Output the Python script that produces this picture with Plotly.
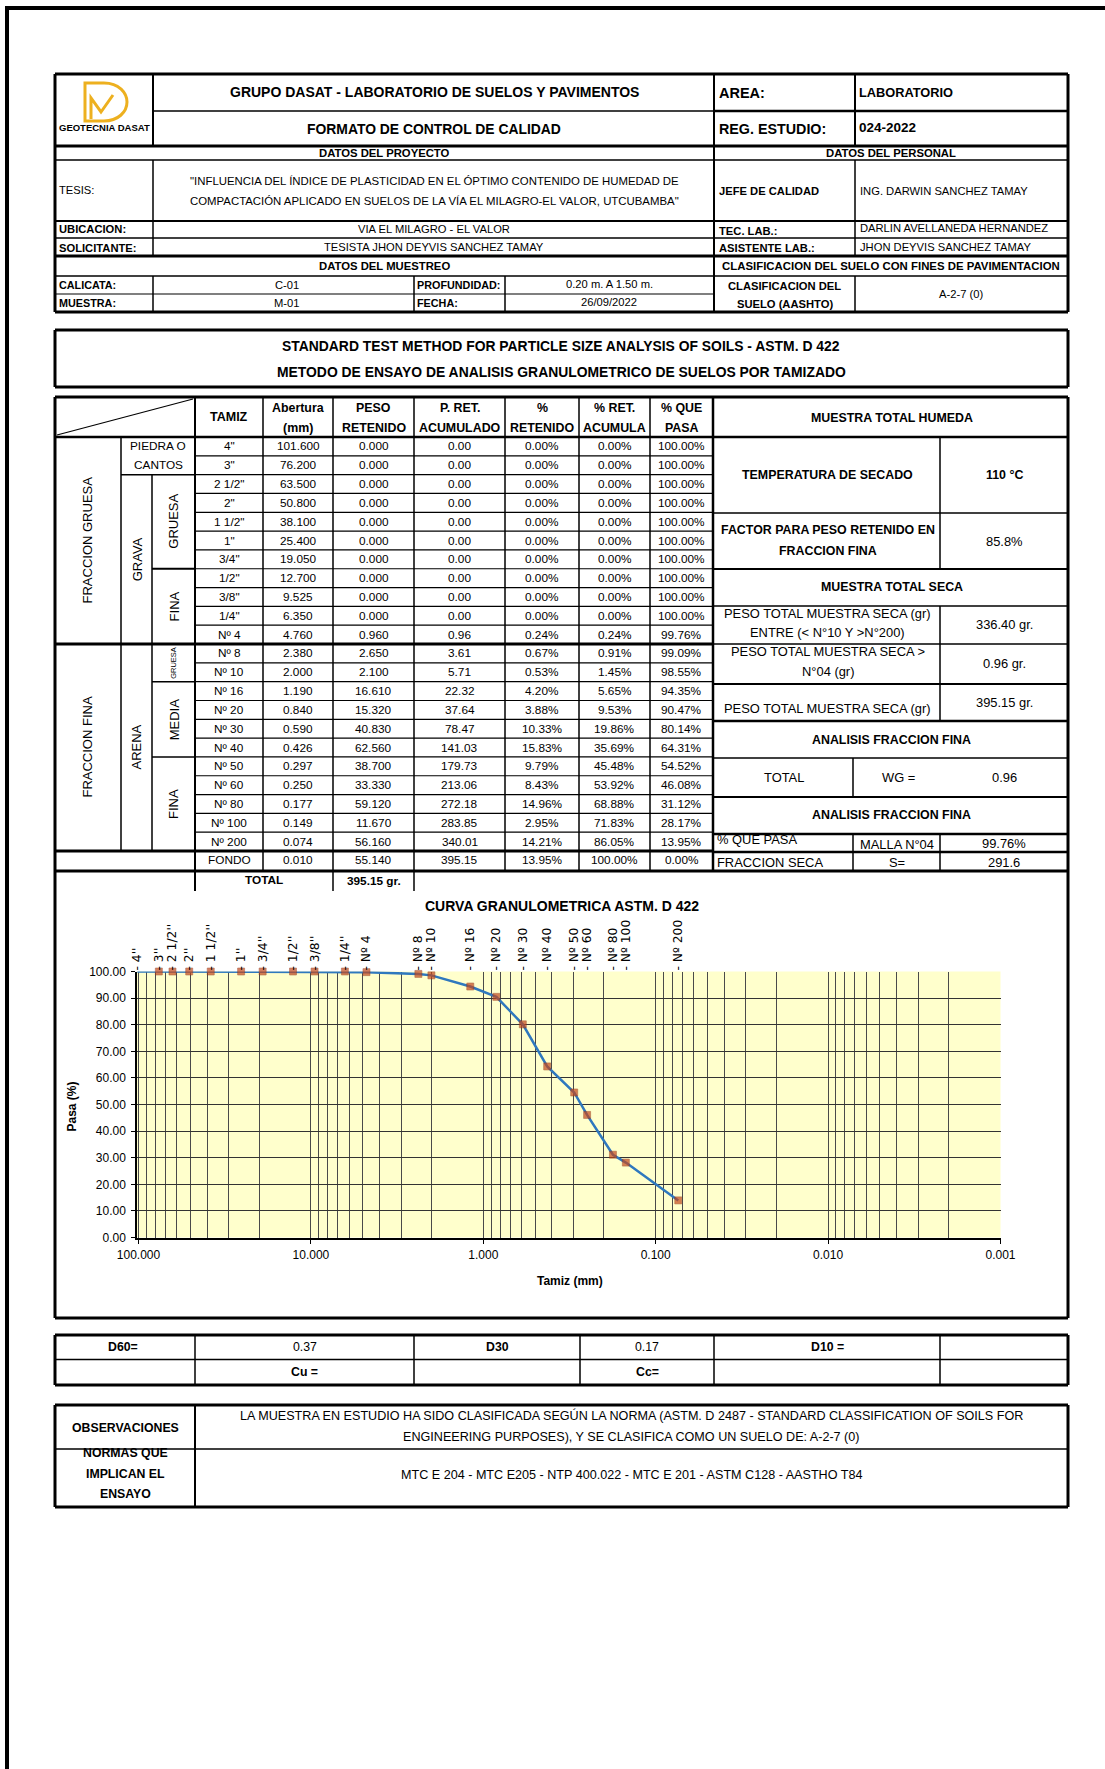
import math
import plotly.graph_objects as go

W, H = 1105, 1769

# ---------------- sieve analysis data ----------------
tamiz = ['4"', '3"', '2 1/2"', '2"', '1 1/2"', '1"', '3/4"', '1/2"', '3/8"', '1/4"',
         'Nº 4', 'Nº 8', 'Nº 10', 'Nº 16', 'Nº 20', 'Nº 30', 'Nº 40', 'Nº 50',
         'Nº 60', 'Nº 80', 'Nº 100', 'Nº 200', 'FONDO']
abertura_mm = [101.600, 76.200, 63.500, 50.800, 38.100, 25.400, 19.050, 12.700, 9.525,
               6.350, 4.760, 2.380, 2.000, 1.190, 0.840, 0.590, 0.426, 0.297, 0.250,
               0.177, 0.149, 0.074, 0.010]
peso_retenido = [0.000, 0.000, 0.000, 0.000, 0.000, 0.000, 0.000, 0.000, 0.000, 0.000,
                 0.960, 2.650, 2.100, 16.610, 15.320, 40.830, 62.560, 38.700, 33.330,
                 59.120, 11.670, 56.160, 55.140]
peso_ret_acumulado = [0.00, 0.00, 0.00, 0.00, 0.00, 0.00, 0.00, 0.00, 0.00, 0.00,
                      0.96, 3.61, 5.71, 22.32, 37.64, 78.47, 141.03, 179.73, 213.06,
                      272.18, 283.85, 340.01, 395.15]
pct_retenido = [0.00, 0.00, 0.00, 0.00, 0.00, 0.00, 0.00, 0.00, 0.00, 0.00,
                0.24, 0.67, 0.53, 4.20, 3.88, 10.33, 15.83, 9.79, 8.43, 14.96, 2.95,
                14.21, 13.95]
pct_ret_acumulado = [0.00, 0.00, 0.00, 0.00, 0.00, 0.00, 0.00, 0.00, 0.00, 0.00,
                     0.24, 0.91, 1.45, 5.65, 9.53, 19.86, 35.69, 45.48, 53.92, 68.88,
                     71.83, 86.05, 100.00]
pct_que_pasa = [100.00, 100.00, 100.00, 100.00, 100.00, 100.00, 100.00, 100.00, 100.00,
                100.00, 99.76, 99.09, 98.55, 94.35, 90.47, 80.14, 64.31, 54.52, 46.08,
                31.12, 28.17, 13.95, 0.00]
peso_total = "395.15 gr."

# sieve names written along the top of the grading curve
tamiz_curva = ["4''", "3''", "2 1/2''", "2''", "1 1/2''", "1''", "3/4''", "1/2''", "3/8''",
               "1/4''", "Nº 4", "Nº 8", "Nº 10", "Nº 16", "Nº 20", "Nº 30", "Nº 40",
               "Nº 50", "Nº 60", "Nº 80", "Nº 100", "Nº 200"]

# axis ticks of the grading curve
x_major_vals = [100, 10, 1, 0.1, 0.01, 0.001]
x_major_text = ["100.000", "10.000", "1.000", "0.100", "0.010", "0.001"]
y_tick_vals = [0, 10, 20, 30, 40, 50, 60, 70, 80, 90, 100]
y_tick_text = ["0.00", "10.00", "20.00", "30.00", "40.00", "50.00", "60.00", "70.00",
               "80.00", "90.00", "100.00"]

# summary values
d60, d30 = "0.37", "0.17"

# ---------------- helpers (pixel -> paper) ----------------
ARIAL = "Liberation Sans, Arial, sans-serif"
DEJAVU = "DejaVu Sans, Verdana, sans-serif"


def X(px):
    return px / W


def Y(py):
    return 1 - py / H


shapes = []
anns = []


def L(x0, y0, x1, y1, w=1.2, color="black"):
    shapes.append(dict(type="line", xref="paper", yref="paper",
                       x0=X(x0), y0=Y(y0), x1=X(x1), y1=Y(y1),
                       line=dict(color=color, width=w)))


def box(x0, y0, x1, y1, w=3):
    L(x0, y0, x1, y0, w)
    L(x0, y1, x1, y1, w)
    L(x0, y0, x0, y1, w)
    L(x1, y0, x1, y1, w)


def T(x, y, s, size=11.8, bold=False, fam=ARIAL, xa="center", angle=0, color="black"):
    anns.append(dict(x=X(x), y=Y(y), xref="paper", yref="paper",
                     text=f"<b>{s}</b>" if bold else s, showarrow=False,
                     xanchor=xa, yanchor="middle", textangle=angle,
                     font=dict(family=fam, size=size, color=color)))


# ---------------- page frame ----------------
L(5, 8, 1105, 8, 4)
L(7, 6, 7, 1769, 4)

# ---------------- header block ----------------
box(55, 74, 1068, 312, 3)
L(153, 74, 153, 146, 2)
L(153, 160, 153, 256, 1.5)
L(153, 276, 153, 312, 1.5)
L(714, 74, 714, 312, 2)
L(855, 74, 855, 146, 2)
L(855, 160, 855, 256, 1.5)
L(855, 276, 855, 312, 1.5)
L(153, 111, 714, 111, 1.5)
L(714, 111, 1068, 111, 2.5)
L(55, 146, 1068, 146, 3)
L(55, 160, 1068, 160, 1.5)
L(55, 221, 1068, 221, 2)
L(55, 238, 1068, 238, 1.5)
L(55, 256, 1068, 256, 3)
L(55, 276, 1068, 276, 1.5)
L(55, 294, 714, 294, 1.2)
L(414, 276, 414, 312, 1.5)
L(505, 276, 505, 312, 1.5)

# logo
GOLD = "#EDB01F"


def P(px, py):
    return f"{X(px):.5f},{Y(py):.5f}"


shapes.append(dict(type="path", xref="paper", yref="paper",
                   path=(f"M{P(85, 83)} L{P(104, 83)} C{P(119, 83)} {P(127, 93)} {P(127, 102)} "
                         f"C{P(127, 112)} {P(118, 121)} {P(104, 121)} L{P(85, 121)} Z"),
                   line=dict(color=GOLD, width=3)))
shapes.append(dict(type="path", xref="paper", yref="paper",
                   path=f"M{P(91, 119)} L{P(91, 98)} L{P(101, 112)} L{P(113, 95)}",
                   line=dict(color=GOLD, width=3)))
T(104, 128, "GEOTECNIA DASAT", 9.5, True)

T(434, 92.5, "GRUPO DASAT - LABORATORIO DE SUELOS Y PAVIMENTOS", 14, True)
T(434, 128.5, "FORMATO DE CONTROL DE CALIDAD", 13.9, True)
T(717, 93, "AREA:", 14.5, True, xa="left")
T(857, 92, "LABORATORIO", 12.8, True, xa="left")
T(717, 129, "REG. ESTUDIO:", 14.3, True, xa="left")
T(857, 128, "024-2022", 13.5, True, xa="left")

T(384.5, 153, "DATOS DEL PROYECTO", 11.3, True)
T(891, 153, "DATOS DEL PERSONAL", 11.3, True)
T(57, 190.5, "TESIS:", 11.2, xa="left")
T(434, 180.5, '"INFLUENCIA DEL ÍNDICE DE PLASTICIDAD EN EL ÓPTIMO CONTENIDO DE HUMEDAD DE', 11.4)
T(434, 201, 'COMPACTACIÓN APLICADO EN SUELOS DE LA VÍA EL MILAGRO-EL VALOR, UTCUBAMBA"', 11.4)
T(717, 191, "JEFE DE CALIDAD", 11.2, True, xa="left")
T(858, 191, "ING. DARWIN SANCHEZ TAMAY", 11.2, xa="left")
T(57, 229.5, "UBICACION:", 11.2, True, xa="left")
T(434, 229.5, "VIA EL MILAGRO - EL VALOR", 11.2)
T(717, 230.5, "TEC. LAB.:", 11.2, True, xa="left")
T(858, 228, "DARLIN AVELLANEDA HERNANDEZ", 11.2, xa="left")
T(57, 247.5, "SOLICITANTE:", 11.2, True, xa="left")
T(434, 247, "TESISTA JHON DEYVIS SANCHEZ TAMAY", 11.2)
T(717, 248, "ASISTENTE LAB.:", 11.2, True, xa="left")
T(858, 247, "JHON DEYVIS SANCHEZ TAMAY", 11.2, xa="left")
T(384.5, 266, "DATOS DEL MUESTREO", 11.3, True)
T(891, 266, "CLASIFICACION DEL SUELO CON FINES DE PAVIMENTACION", 11.4, True)
T(57, 285, "CALICATA:", 10.8, True, xa="left")
T(287, 285, "C-01", 11.2)
T(415, 285, "PROFUNDIDAD:", 10.8, True, xa="left")
T(609, 284, "0.20 m. A 1.50 m.", 11.2)
T(57, 303, "MUESTRA:", 10.8, True, xa="left")
T(287, 303, "M-01", 11.2)
T(415, 303, "FECHA:", 10.8, True, xa="left")
T(609, 302, "26/09/2022", 11.2)
T(784.5, 286, "CLASIFICACION DEL", 11.2, True)
T(784.5, 304, "SUELO (AASHTO)", 11.2, True)
T(961, 294, "A-2-7 (0)", 11.2)

# ---------------- test title ----------------
box(55, 330, 1068, 387, 3)
T(561, 345.5, "STANDARD TEST METHOD FOR PARTICLE SIZE ANALYSIS OF SOILS - ASTM. D 422", 13.9, True)
T(561, 372.5, "METODO DE ENSAYO DE ANALISIS GRANULOMETRICO DE SUELOS POR TAMIZADO", 13.9, True)

# ---------------- sieve table ----------------
TT, TH, RH = 397, 437, 18.82
NROW = 22
TF = TH + NROW * RH      # top of FONDO row
TFB, TTB = 871, 891
cols = [195, 263, 333, 414, 505, 579, 650, 713]
centers = [(cols[i] + cols[i + 1]) / 2 for i in range(7)]


def ry(k):
    return TH + k * RH


L(55, TT, 1068, TT, 3)
L(55, TT, 55, TTB, 3)
L(1068, TT, 1068, TTB, 3)
L(55, TH, 1068, TH, 2.5)
L(57, TH - 2, 193, TT + 2, 1.2)
L(121, TH, 121, TF, 1.5)
L(152, ry(2), 152, TF, 1.5)
L(121, ry(2), 195, ry(2), 1.5)
L(152, ry(7), 195, ry(7), 2)
L(152, ry(13), 195, ry(13), 1.5)
L(152, ry(17), 195, ry(17), 1.5)
L(195, TT, 195, TTB, 2)
for k in range(1, NROW):
    if k == 11:
        L(55, ry(k), 713, ry(k), 3)
    else:
        L(195, ry(k), 713, ry(k), 1.2)
L(55, TF, 713, TF, 3)
L(55, TFB, 1068, TFB, 3)
for cx in cols[1:-1]:
    L(cx, TT, cx, TFB, 1.5)
L(713, TT, 713, TFB, 2.5)
L(333, TFB, 333, TTB, 1.5)
L(414, TFB, 414, TTB, 1.5)

# header of the table
T(centers[0], 417, "TAMIZ", 12.5, True)
heads = [("Abertura", "(mm)"), ("PESO", "RETENIDO"), ("P. RET.", "ACUMULADO"),
         ("%", "RETENIDO"), ("% RET.", "ACUMULA"), ("% QUE", "PASA")]
for i, (a, b) in enumerate(heads):
    T(centers[i + 1], 408, a, 12.4, True)
    T(centers[i + 1], 428, b, 12.4, True)

# body of the table
for i in range(len(tamiz)):
    yc = TH + (i + 0.5) * RH
    vals = [tamiz[i], f"{abertura_mm[i]:.3f}", f"{peso_retenido[i]:.3f}",
            f"{peso_ret_acumulado[i]:.2f}", f"{pct_retenido[i]:.2f}%",
            f"{pct_ret_acumulado[i]:.2f}%", f"{pct_que_pasa[i]:.2f}%"]
    for c, v in zip(centers, vals):
        T(c, yc, v, 11.8)
T(264, 880, "TOTAL", 11.8, True)
T(373.5, 881.5, peso_total, 11.8, True)

# grouping labels on the left
T(88, (ry(0) + ry(11)) / 2, "FRACCION GRUESA", 13, angle=-90)
T(158, ry(0.5), "PIEDRA O", 11.8)
T(158, ry(1.5), "CANTOS", 11.8)
T(137, (ry(2) + ry(11)) / 2, "GRAVA", 13, angle=-90)
T(174, (ry(2) + ry(7)) / 2, "GRUESA", 13, angle=-90)
T(174, (ry(7) + ry(11)) / 2, "FINA", 13, angle=-90)
T(88, (ry(11) + ry(22)) / 2, "FRACCION FINA", 13, angle=-90)
T(137, (ry(11) + ry(22)) / 2, "ARENA", 13, angle=-90)
T(174, (ry(11) + ry(13)) / 2, "GRUESA", 7.5, angle=-90)
T(174, (ry(13) + ry(17)) / 2, "MEDIA", 13, angle=-90)
T(174, (ry(17) + ry(22)) / 2, "FINA", 13, angle=-90)

# ---------------- right panel ----------------
for yy, w in [(513, 1.5), (569, 2), (606, 1.5), (644, 1.5), (684, 2), (721, 2.5),
              (758, 1.5), (797, 2), (834, 2.5), (852, 2.5)]:
    L(713, yy, 1068, yy, w)
L(940, TH, 940, 569, 1.5)
L(940, 606, 940, 721, 1.5)
L(853, 758, 853, 797, 1.5)
L(853, 834, 853, 872, 1.5)
L(940, 834, 940, 872, 1.5)

RB, RR = 12.4, 12.9
T(891.5, 417.5, "MUESTRA TOTAL HUMEDA", RB, True)
T(827.5, 475, "TEMPERATURA DE SECADO", RB, True)
T(1004, 475, "110 °C", RB, True)
T(827.5, 530, "FACTOR PARA PESO RETENIDO EN", RB, True)
T(827.5, 551, "FRACCION FINA", RB, True)
T(1004, 541.5, "85.8%", RR)
T(891.5, 587, "MUESTRA TOTAL SECA", RB, True)
T(827.5, 613.5, "PESO TOTAL MUESTRA SECA (gr)", RR)
T(827.5, 632.5, "ENTRE (< N°10 Y >N°200)", RR)
T(1004, 625, "336.40 gr.", RR)
T(827.5, 651.5, "PESO TOTAL MUESTRA SECA >", RR)
T(827.5, 671, "N°04 (gr)", RR)
T(1004, 663, "0.96 gr.", RR)
T(827.5, 708.5, "PESO TOTAL MUESTRA SECA (gr)", RR)
T(1004, 703, "395.15 gr.", RR)
T(891.5, 740, "ANALISIS FRACCION FINA", RB, True)
T(784, 777.5, "TOTAL", RR)
T(898, 777.5, "WG =", RR)
T(1004, 777.5, "0.96", RR)
T(891.5, 814.5, "ANALISIS FRACCION FINA", RB, True)
T(715, 839.5, "% QUE PASA", RR, xa="left")
T(896.5, 844, "MALLA N°04", RR)
T(1004, 843, "99.76%", RR)
T(715, 862, "FRACCION SECA", RR, xa="left")
T(896.5, 862, "S=", RR)
T(1004, 862, "291.6", RR)

# ---------------- grading curve frame ----------------
L(55, TTB, 55, 1318, 3)
L(1068, TTB, 1068, 1318, 3)
L(55, 1318, 1068, 1318, 3)
T(562, 906, "CURVA GRANULOMETRICA ASTM. D 422", 14, True)
T(71, 1106.5, "Pasa (%)", 12, True, angle=-90)
T(570, 1281, "Tamiz (mm)", 12, True)

# ---------------- summary tables ----------------
box(55, 1335, 1068, 1385, 3)
L(55, 1359.5, 1068, 1359.5, 1.5)
for cx in [195, 414, 580, 714, 940]:
    L(cx, 1335, cx, 1385, 1.5)
T(123, 1347, "D60=", 12.3, True)
T(304.5, 1347, d60, 12.3)
T(497, 1347, "D30", 12.3, True)
T(647, 1347, d30, 12.3)
T(827, 1347, "D10 =", 12.3, True)
T(304.5, 1372, "Cu =", 12.3, True)
T(647, 1372, "Cc=", 12.3, True)

box(55, 1405, 1068, 1507, 3)
L(55, 1449, 1068, 1449, 1.5)
L(195, 1405, 195, 1507, 2)
T(125, 1427.5, "OBSERVACIONES", 12.3, True)
T(631, 1415.5, "LA MUESTRA EN ESTUDIO HA SIDO CLASIFICADA SEGÚN LA NORMA (ASTM. D 2487 - "
               "STANDARD CLASSIFICATION OF SOILS FOR", 12.6)
T(631, 1437, "ENGINEERING PURPOSES), Y SE CLASIFICA COMO UN SUELO DE: A-2-7 (0)", 12.6)
T(125, 1452.5, "NORMAS QUE", 12.3, True)
T(125, 1473.5, "IMPLICAN EL", 12.3, True)
T(125, 1494, "ENSAYO", 12.3, True)
T(631, 1475, "MTC E 204 - MTC E205 - NTP 400.022 - MTC E 201 - ASTM C128 - AASTHO T84", 12.6)

# ---------------- grading curve ----------------
n_sieves = len(tamiz_curva)
x_curve = abertura_mm[:n_sieves]
y_curve = pct_que_pasa[:n_sieves]
marker_sizes = [0 if a > x_major_vals[0] else 7 for a in x_curve]

minor_vals = []
for dec in [10, 1, 0.1, 0.01, 0.001]:
    for m in range(2, 10):
        v = round(m * dec, 6)
        if v <= 100:
            minor_vals.append(v)

# log axis runs from just above the largest opening (so every sieve name shows)
# down to 0.001 mm; one decade spans 172.4 px and 100 mm sits at x = 138.5 px
DEC_PX = 172.4
x_hi = math.log10(102)
x_lo = -3
px_left = 138.5 - (x_hi - 2) * DEC_PX
px_right = 138.5 + (2 - x_lo) * DEC_PX

fig = go.Figure()
fig.add_trace(go.Scatter(
    x=x_curve, y=y_curve, mode="lines+markers", xaxis="x", yaxis="y",
    line=dict(color="#2F78BE", width=2.5),
    marker=dict(symbol="square", size=marker_sizes, color="#C4481C",
                line=dict(color="#8E2F10", width=0.6)),
    cliponaxis=False, hoverinfo="skip", showlegend=False))
fig.add_trace(go.Scatter(
    x=x_curve, y=y_curve, mode="markers", xaxis="x2", yaxis="y",
    marker=dict(size=1, opacity=0), hoverinfo="skip", showlegend=False))

GRID = "#4a4a4a"
fig.update_layout(
    width=W, height=H, autosize=False,
    margin=dict(l=0, r=0, t=0, b=0, pad=0, autoexpand=False),
    paper_bgcolor="white", plot_bgcolor="#FFFFCC",
    showlegend=False,
    shapes=shapes, annotations=anns,
    xaxis=dict(type="log", range=[x_hi, x_lo], domain=[X(px_left), X(px_right)], anchor="y",
               automargin=False,
               tickvals=x_major_vals, ticktext=x_major_text,
               ticks="outside", ticklen=5, tickcolor="black", tickwidth=1,
               showline=True, linecolor="black", linewidth=1.5,
               showgrid=True, gridcolor=GRID, gridwidth=1,
               minor=dict(tickvals=minor_vals, showgrid=True, gridcolor=GRID,
                          gridwidth=1, ticks=""),
               tickfont=dict(family=ARIAL, size=12, color="black"),
               zeroline=False, fixedrange=True),
    xaxis2=dict(type="log", range=[x_hi, x_lo], overlaying="x", side="top", anchor="y",
                automargin=False,
                tickvals=x_curve, ticktext=["- " + t for t in tamiz_curva],
                tickangle=-90, ticks="", showgrid=False, showline=False,
                tickfont=dict(family=DEJAVU, size=12.3, color="black"),
                zeroline=False, fixedrange=True),
    yaxis=dict(range=[0, 100], domain=[Y(1237.5), Y(971.5)], anchor="x",
               automargin=False,
               tickvals=y_tick_vals, ticktext=y_tick_text,
               ticks="outside", ticklen=4, tickcolor="black", ticklabelstandoff=3,
               showline=True, linecolor="black", linewidth=1.5,
               showgrid=True, gridcolor="#333333", gridwidth=1, zeroline=False,
               tickfont=dict(family=ARIAL, size=12, color="black"), fixedrange=True),
)

fig.write_html("out.html")
